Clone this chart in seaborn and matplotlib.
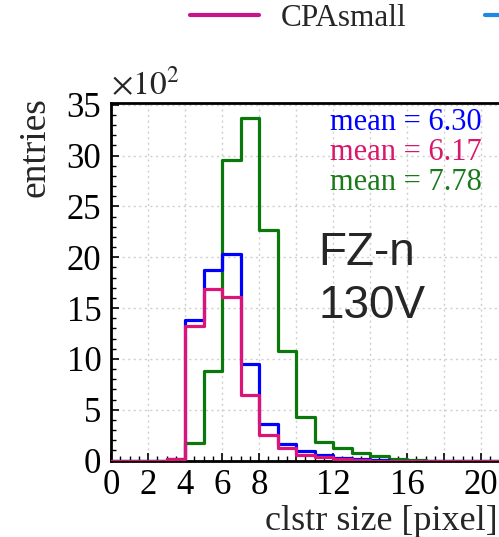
import numpy as np
import pandas as pd
import matplotlib
matplotlib.use("Agg")
import matplotlib.pyplot as plt
from matplotlib.lines import Line2D
from matplotlib.ticker import MultipleLocator, FixedLocator, FixedFormatter
import seaborn as sns

# ---- data (entries in units of 10^2), bins of width 1 starting at 0 ----
bin_edges = list(range(0, 26))
blue_counts = [0, 0, 0, 0.1, 13.8, 18.7, 20.3, 9.5, 3.6, 1.6, 0.9, 0.5, 0.2, 0.1, 0.05,
               0, 0, 0, 0, 0, 0, 0, 0, 0, 0]
magenta_counts = [0, 0, 0, 0.15, 13.2, 16.9, 16.1, 6.45, 2.5, 1.25, 0.5, 0.3, 0.1, 0.05, 0,
                  0, 0, 0, 0, 0, 0, 0, 0, 0, 0]
green_counts = [0, 0, 0, 0, 1.7, 8.8, 29.6, 33.7, 22.7, 10.8, 4.3, 1.8, 1.2, 0.75, 0.45,
                0.15, 0.05, 0, 0, 0, 0, 0, 0, 0, 0]
mean_labels = ["mean = 6.30", "mean = 6.17", "mean = 7.78"]
legend_labels = ["CPAsmall", ""]   # second entry's label lies outside the visible area
x_tick_values = [0, 2, 4, 6, 8, 10, 12, 14, 16, 18, 20]
x_tick_labels = ["0", "2", "4", "6", "8", "", "12", "", "16", "", "20"]
y_tick_values = [0, 5, 10, 15, 20, 25, 30, 35]

BLUE = "#0000FF"
MAGENTA = "#DC1478"
GREEN = "#0B780B"

sns.set_theme(style="white")
plt.rcParams["font.family"] = ["Liberation Serif", "DejaVu Serif"]
plt.rcParams["mathtext.fontset"] = "stix"

centers = [e + 0.5 for e in bin_edges[:-1]]
df = pd.DataFrame({
    "x": centers * 3,
    "w": green_counts + blue_counts + magenta_counts,
    "s": ["green"] * len(centers) + ["blue"] * len(centers) + ["magenta"] * len(centers),
})

W, H = 499, 537
fig = plt.figure(figsize=(W / 100, H / 100), dpi=100)
ax_left, ax_bottom, ax_top = 111, 460.5, 102.7
ax = fig.add_axes([ax_left / W, (H - ax_bottom) / H, (W + 1 - ax_left) / W,
                   (ax_bottom - ax_top) / H])

for name, col in [("green", GREEN), ("blue", BLUE), ("magenta", MAGENTA)]:
    sub = df[df["s"] == name]
    sns.histplot(data=sub, x="x", weights="w", bins=bin_edges, element="step",
                 fill=False, color=col, linewidth=2.3, ax=ax, zorder=3)

px_per_unit = 18.5
ax.set_xlim(0, (W + 1 - ax_left) / px_per_unit)
ax.set_ylim(0, 35.2)

ax.xaxis.set_major_locator(FixedLocator(x_tick_values))
ax.xaxis.set_major_formatter(FixedFormatter(x_tick_labels))
ax.xaxis.set_minor_locator(MultipleLocator(0.5))
ax.yaxis.set_major_locator(FixedLocator(y_tick_values))
ax.yaxis.set_minor_locator(MultipleLocator(1))
ax.tick_params(axis="both", which="major", direction="in", length=6, width=1.2,
               labelsize=25, color="black", labelcolor="black")
ax.tick_params(axis="both", which="minor", direction="in", length=3.5, width=1.0,
               color="black")
ax.tick_params(axis="y", which="both", left=True, pad=7)
ax.tick_params(axis="x", which="both", bottom=True, pad=6)

ax.grid(True, which="major", linestyle=(0, (1.5, 2.5)), color="#cfcfcf", linewidth=1.0)
ax.set_axisbelow(True)
for sp in ax.spines.values():
    sp.set_color("black")
    sp.set_linewidth(2.0)
ax.spines["right"].set_color("#999999")
ax.spines["right"].set_linewidth(1.0)

ax.set_xlabel("clstr size [pixel]", fontsize=26, loc="right")
ax.xaxis.set_label_coords((497 - ax_left) / (W - ax_left), -0.125)
ax.set_ylabel("entries", fontsize=27, loc="top")
ax.yaxis.set_label_coords((53 - ax_left) / (W - ax_left), 1.016)

# multiplier label
ax.text(0.0, (ax_bottom - 95) / (ax_bottom - ax_top), r"$\times 10^{2}$",
        transform=ax.transAxes, fontsize=24, ha="left", va="baseline")

# means
mean_colors = [BLUE, "#D8186A", "#1A7A1A"]
ys = [130, 160, 190]
for lab, c, yp in zip(mean_labels, mean_colors, ys):
    fig.text(482 / W, 1 - yp / H, lab, color=c, fontsize=22, ha="right",
             va="baseline")

# sample label
fig.text(318 / W, 1 - 318 / H, "FZ-n\n130V", fontsize=33,
         family=["Liberation Sans", "DejaVu Sans"], ha="left", va="baseline",
         linespacing=1.27)

# legend (top, partially outside the figure)
handles = [Line2D([], [], color="#C8148C", lw=3),
           Line2D([], [], color="#1E88E5", lw=3)]
leg = fig.legend(handles, legend_labels, loc="center left",
                 bbox_to_anchor=(190 / W, 1 - 18 / H), ncol=2, frameon=False,
                 fontsize=22.5, handlelength=2.2, handletextpad=0.72,
                 columnspacing=2.5, borderpad=0, borderaxespad=0)

fig.savefig("out.png", dpi=100)
